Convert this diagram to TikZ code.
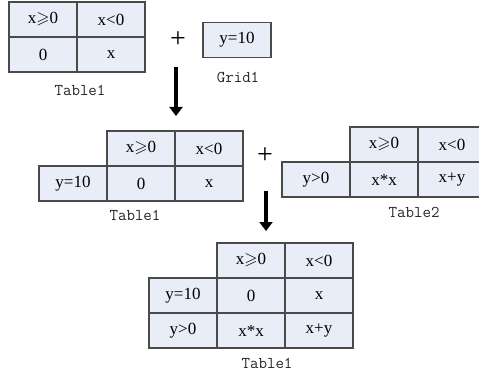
\documentclass[tikz,border=0pt]{standalone}
\usepackage{amssymb}
\usepackage{fontspec}
\setmainfont{Liberation Serif}
\usetikzlibrary{arrows.meta}
\definecolor{cellfill}{HTML}{E8EDF8}
\definecolor{cellline}{HTML}{4A4A4A}
\begin{document}
\begin{tikzpicture}[x=1pt, y=-1pt,
	cell/.style={draw=cellline, line width=1.1pt, fill=cellfill, minimum width=68pt, minimum height=35pt, inner sep=0pt, font=\fontsize{17}{19}\selectfont},
	caption/.style={font=\ttfamily\fontsize{16.5}{18}\selectfont, text=black!85, inner sep=0pt},
	plus/.style={font=\fontsize{28}{30}\selectfont, inner sep=0pt},
	down/.style={line width=3.5pt, -{Triangle[width=13pt, length=9pt]}}]
	\useasboundingbox (0,0) rectangle (479,377);

	% Table1 and Grid1
	\node[cell] (ta1) at (43, 19.5) {x$\geqslant$0};
	\node[cell] (ta2) at (111, 19.5) {x<0};
	\node[cell] (ta3) at (43, 54.5) {0};
	\node[cell] (ta4) at (111, 54.5) {x};
	\node[caption] (tacap) at (80, 90) {Table1};
	\node[plus] (p1) at (178, 40) {+};
	\node[cell] (g1) at (237, 40) {y=10};
	\node[caption] (gcap) at (238, 77) {Grid1};

	\coordinate (s1) at (176, 67);
	\coordinate (e1) at (176, 116);
	\draw[down] (s1) -- (e1);

	% Table1 after the join
	\node[cell] (tb1) at (141, 148.5) {x$\geqslant$0};
	\node[cell] (tb2) at (209, 148.5) {x<0};
	\node[cell] (tb3) at (73, 183.5) {y=10};
	\node[cell] (tb4) at (141, 183.5) {0};
	\node[cell] (tb5) at (209, 183.5) {x};
	\node[caption] (tbcap) at (135, 215) {Table1};
	\node[plus] (p2) at (265, 156) {+};

	% Table2
	\node[cell] (tc1) at (384, 144.5) {x$\geqslant$0};
	\node[cell] (tc2) at (452, 144.5) {x<0};
	\node[cell] (tc3) at (316, 179.5) {y>0};
	\node[cell] (tc4) at (384, 179.5) {x*x};
	\node[cell] (tc5) at (452, 179.5) {x+y};
	\node[caption] (tccap) at (414, 212) {Table2};

	\coordinate (s2) at (266, 191);
	\coordinate (e2) at (266, 231);
	\draw[down] (s2) -- (e2);

	% result
	\node[cell] (td1) at (251, 260.5) {x$\geqslant$0};
	\node[cell] (td2) at (319, 260.5) {x<0};
	\node[cell] (td3) at (183, 295.5) {y=10};
	\node[cell] (td4) at (251, 295.5) {0};
	\node[cell] (td5) at (319, 295.5) {x};
	\node[cell] (td6) at (183, 330.5) {y>0};
	\node[cell] (td7) at (251, 330.5) {x*x};
	\node[cell] (td8) at (319, 330.5) {x+y};
	\node[caption] (tdcap) at (267, 363) {Table1};
\end{tikzpicture}
\end{document}
